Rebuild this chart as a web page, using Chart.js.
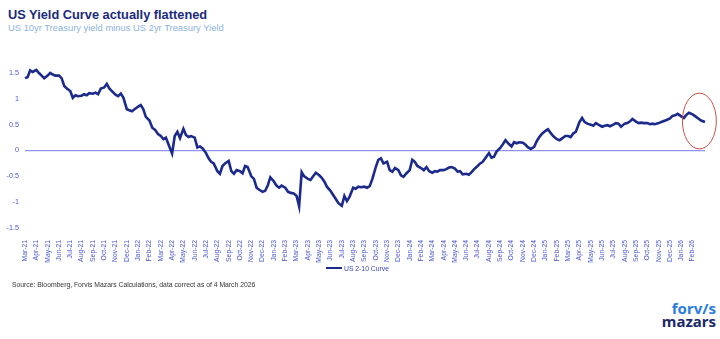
<!DOCTYPE html>
<html>
<head>
<meta charset="utf-8">
<script src="https://cdn.jsdelivr.net/npm/chart.js@4.4.1/dist/chart.umd.min.js"></script>
<style>
  body { margin: 0; background: #fff; font-family: "Liberation Sans", Arial, sans-serif; }
  #wrap { position: relative; width: 720px; height: 339px; overflow: hidden; }
  #title { position: absolute; left: 8px; top: 7px; font-size: 12.8px; font-weight: bold; color: #1b2a7c; }
  #subtitle { position: absolute; left: 8px; top: 22px; font-size: 9.4px; color: #8db3df; }
  #chartBox { position: absolute; left: 0; top: 40px; width: 720px; height: 230px; }
  #legend { position: absolute; left: 326px; top: 265px; font-size: 6.8px; color: #3c47b8; white-space: nowrap; }
  #legend .swatch { display: inline-block; width: 16px; height: 2.5px; background: #1c2a8c; vertical-align: middle; margin-right: 2px; position: relative; top: -1px; }
  #source { position: absolute; left: 12px; top: 281px; font-size: 6.8px; color: #333; }
  #logo { position: absolute; right: 4px; top: 302px; text-align: right; font-family: "Noto Sans", sans-serif; font-weight: bold; line-height: 13px; }
  #logo .a { color: #2b7de0; font-size: 15px; }
  #logo .b { color: #1b2a6b; font-size: 15px; }
</style>
</head>
<body>
<div id="wrap">
  <div id="title">US Yield Curve actually flattened</div>
  <div id="subtitle">US 10yr Treasury yield minus US 2yr Treasury Yield</div>
  <div id="chartBox"><canvas id="myChart"></canvas></div>
  <div id="legend"><span class="swatch"></span><span id="legendText"></span></div>
  <div id="source">Source: Bloomberg, Forvis Mazars Calculations, data correct as of 4 March 2026</div>
  <div id="logo"><div class="a">forv/s</div><div class="b">mazars</div></div>
</div>
<script>
// Month tick labels, one per month starting Mar-21
const monthLabels = [
    'Mar-21','Apr-21','May-21','Jun-21','Jul-21','Aug-21','Sep-21','Oct-21','Nov-21','Dec-21',
    'Jan-22','Feb-22','Mar-22','Apr-22','May-22','Jun-22','Jul-22','Aug-22','Sep-22','Oct-22','Nov-22','Dec-22',
    'Jan-23','Feb-23','Mar-23','Apr-23','May-23','Jun-23','Jul-23','Aug-23','Sep-23','Oct-23','Nov-23','Dec-23',
    'Jan-24','Feb-24','Mar-24','Apr-24','May-24','Jun-24','Jul-24','Aug-24','Sep-24','Oct-24','Nov-24','Dec-24',
    'Jan-25','Feb-25','Mar-25','Apr-25','May-25','Jun-25','Jul-25','Aug-25','Sep-25','Oct-25','Nov-25','Dec-25',
    'Jan-26','Feb-26'
];

// Readings are taken on these days of each month
const sampleDays = [1, 8, 15, 22];

// US 2-10 spread (%), four readings a month from Mar-21 to Feb-26
const spread = [
    1.40, 1.42, 1.55, 1.52,   1.56, 1.50, 1.45, 1.40,   1.45, 1.50, 1.47, 1.45,   // Mar-May 21
    1.45, 1.40, 1.25, 1.20,   1.15, 1.02, 1.07, 1.05,   1.06, 1.09, 1.07, 1.11,   // Jun-Aug 21
    1.10, 1.12, 1.09, 1.20,   1.22, 1.29, 1.20, 1.15,   1.08, 1.05, 1.10, 1.02,   // Sep-Nov 21
    0.80, 0.78, 0.76, 0.80,   0.85, 0.88, 0.80, 0.65,   0.58, 0.44, 0.40, 0.32,   // Dec 21-Feb 22
    0.28, 0.22, 0.25, 0.12,  -0.06, 0.28, 0.36, 0.24,   0.42, 0.30, 0.26, 0.28,   // Mar-May 22
    0.25, 0.06, 0.08, 0.04,  -0.05,-0.15,-0.22,-0.25,  -0.40,-0.45,-0.30,-0.25,   // Jun-Aug 22
   -0.20,-0.40,-0.45,-0.38,  -0.40,-0.44,-0.30,-0.32,  -0.50,-0.55,-0.72,-0.76,   // Sep-Nov 22
   -0.80,-0.78,-0.68,-0.52,  -0.60,-0.68,-0.72,-0.68,  -0.72,-0.80,-0.82,-0.83,   // Dec 22-Feb 23
   -0.88,-1.08,-0.42,-0.50,  -0.55,-0.57,-0.50,-0.43,  -0.48,-0.53,-0.60,-0.70,   // Mar-May 23
   -0.78,-0.86,-0.94,-1.02,  -1.07,-0.88,-0.98,-0.90,  -0.72,-0.74,-0.70,-0.71,   // Jun-Aug 23
   -0.70,-0.72,-0.69,-0.55,  -0.32,-0.18,-0.15,-0.25,  -0.22,-0.38,-0.41,-0.34,   // Sep-Nov 23
   -0.38,-0.48,-0.51,-0.45,  -0.38,-0.18,-0.22,-0.30,  -0.34,-0.38,-0.32,-0.40,   // Dec 23-Feb 24
   -0.43,-0.40,-0.41,-0.38,  -0.38,-0.36,-0.33,-0.32,  -0.35,-0.41,-0.40,-0.46,   // Mar-May 24
   -0.45,-0.47,-0.42,-0.36,  -0.30,-0.25,-0.22,-0.15,  -0.05,-0.14,-0.12,-0.02,   // Jun-Aug 24
    0.05, 0.12, 0.20, 0.14,   0.08, 0.16, 0.14, 0.16,   0.15, 0.11, 0.06, 0.03,   // Sep-Nov 24
    0.07, 0.18, 0.26, 0.32,   0.38, 0.41, 0.34, 0.28,   0.22, 0.20, 0.24, 0.28,   // Dec 24-Feb 25
    0.28, 0.26, 0.33, 0.36,   0.55, 0.63, 0.55, 0.52,   0.50, 0.48, 0.53, 0.50,   // Mar-May 25
    0.46, 0.48, 0.49, 0.47,   0.50, 0.53, 0.52, 0.46,   0.52, 0.53, 0.56, 0.61,   // Jun-Aug 25
    0.56, 0.53, 0.54, 0.53,   0.53, 0.51, 0.52, 0.51,   0.53, 0.55, 0.57, 0.59,   // Sep-Nov 25
    0.62, 0.67, 0.68, 0.71,   0.66, 0.63, 0.69, 0.73,   0.70, 0.66, 0.62, 0.58    // Dec 25-Feb 26
];

// Last reading, 4 March 2026
const lastSpread = 0.55;
const lastDay = 4;

const seriesName = 'US 2-10 Curve';
const yTicks = [-1.5, -1, -0.5, 0, 0.5, 1, 1.5];

function daysInMonth(m) {
    // m = months after Mar-21
    return new Date(2021, 2 + m + 1, 0).getDate();
}

const points = spread.map((v, i) => {
    const m = Math.floor(i / 4);
    const d = sampleDays[i % 4];
    return { x: m + (d - 1) / daysInMonth(m), y: v };
});
points.push({ x: monthLabels.length + (lastDay - 1) / daysInMonth(monthLabels.length), y: lastSpread });

document.getElementById('legendText').textContent = seriesName;

// Red ellipse round the latest readings (in axis units)
const ellipseBox = { x0: 58.1, x1: 61.1, y0: 0.03, y1: 1.11 };

const ellipsePlugin = {
    id: 'ellipse',
    afterDatasetsDraw(chart) {
        const { ctx, scales: { x, y } } = chart;
        const left = x.getPixelForValue(ellipseBox.x0);
        const right = x.getPixelForValue(ellipseBox.x1);
        const top = y.getPixelForValue(ellipseBox.y1);
        const bottom = y.getPixelForValue(ellipseBox.y0);
        ctx.save();
        ctx.beginPath();
        ctx.ellipse((left + right) / 2, (top + bottom) / 2, (right - left) / 2, (bottom - top) / 2, 0, 0, Math.PI * 2);
        ctx.strokeStyle = '#c9504c';
        ctx.lineWidth = 1;
        ctx.stroke();
        ctx.restore();
    }
};

const tickFont = { family: '"Liberation Sans", Arial, sans-serif', size: 6.8 };

new Chart(document.getElementById('myChart').getContext('2d'), {
    type: 'line',
    data: {
        datasets: [{
            label: seriesName,
            data: points,
            borderColor: '#1c2a8c',
            borderWidth: 2.6,
            pointRadius: 0,
            tension: 0,
            clip: false
        }]
    },
    options: {
        responsive: true,
        maintainAspectRatio: false,
        animation: false,
        layout: { padding: { top: 33, right: 15, left: 0, bottom: 0 } },
        scales: {
            x: {
                type: 'linear',
                min: 0,
                max: points[points.length - 1].x,
                grid: { display: false },
                border: { display: false },
                afterBuildTicks: axis => {
                    axis.ticks = monthLabels.map((l, i) => ({ value: i }));
                },
                afterFit: axis => { axis.height = 42; },
                ticks: {
                    autoSkip: false,
                    minRotation: 90,
                    maxRotation: 90,
                    padding: 4,
                    color: '#4a57cf',
                    font: tickFont,
                    callback: value => monthLabels[value]
                }
            },
            y: {
                min: -1.5,
                max: 1.5,
                afterBuildTicks: axis => {
                    axis.ticks = yTicks.map(v => ({ value: v }));
                },
                afterFit: axis => { axis.width = 25; },
                grid: {
                    drawTicks: false,
                    color: c => (c.tick && c.tick.value === 0) ? '#8e95e6' : 'rgba(0,0,0,0)',
                    lineWidth: 1.2
                },
                border: { display: false },
                ticks: {
                    padding: 6,
                    color: '#4a57cf',
                    font: { family: tickFont.family, size: 7.2 },
                    callback: value => String(value)
                }
            }
        },
        plugins: {
            legend: { display: false },
            tooltip: { enabled: false }
        }
    },
    plugins: [ellipsePlugin]
});
</script>
</body>
</html>
